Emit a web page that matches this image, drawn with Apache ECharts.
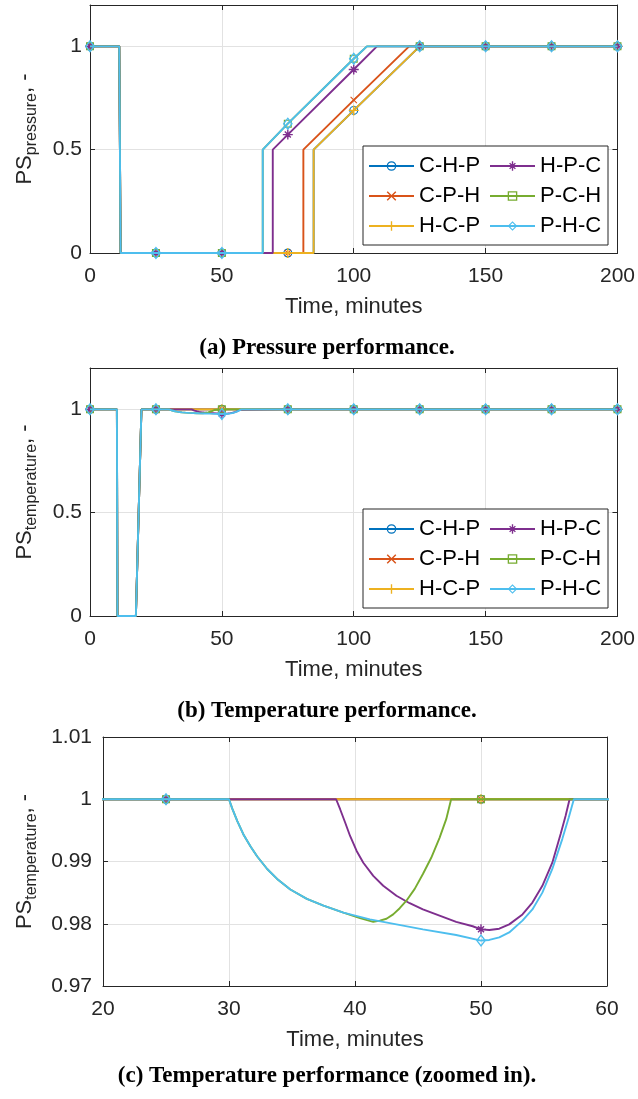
<!DOCTYPE html>
<html><head><meta charset="utf-8">
<script src="https://cdn.jsdelivr.net/npm/echarts@6.0.0/dist/echarts.min.js"></script>
<style>html,body{margin:0;padding:0;background:#fff}#c{width:638px;height:1099px}</style>
</head><body><div id="c"></div>
<script>
// ---------------- data ----------------
const seriesNames = ['C-H-P', 'C-P-H', 'H-C-P', 'H-P-C', 'P-C-H', 'P-H-C'];
const legendOrder = ['C-H-P', 'H-P-C', 'C-P-H', 'P-C-H', 'H-C-P', 'P-H-C'];
const markerTimes = [0, 25, 50, 75, 100, 125, 150, 175, 200];
const captions = ['(a) Pressure performance.', '(b) Temperature performance.', '(c) Temperature performance (zoomed in).'];
const xTitle = 'Time, minutes';

// Pressure performance [time, PS]
const pressCHP = [[0,1],[11.1,1],[11.6,0],[25,0],[50,0],[75,0],[84.8,0],[84.8,0.5],[100,0.69],[125,1],[150,1],[175,1],[200,1]];
const pressCPH = [[0,1],[11.1,1],[11.6,0],[25,0],[50,0],[75,0],[80.9,0],[80.9,0.5],[100,0.74],[121,1],[125,1],[150,1],[175,1],[200,1]];
const pressHCP = [[0,1],[11.1,1],[11.6,0],[25,0],[50,0],[75,0],[84.8,0],[84.8,0.5],[100,0.69],[125,1],[150,1],[175,1],[200,1]];
const pressHPC = [[0,1],[11.1,1],[11.6,0],[25,0],[50,0],[69.3,0],[69.3,0.5],[75,0.573],[100,0.888],[108.8,1],[125,1],[150,1],[175,1],[200,1]];
const pressPCH = [[0,1],[11.1,1],[11.6,0],[25,0],[50,0],[65.5,0],[65.5,0.5],[75,0.626],[100,0.94],[105,1],[125,1],[150,1],[175,1],[200,1]];
const pressPHC = [[0,1],[11.1,1],[11.6,0],[25,0],[50,0],[65.5,0],[65.5,0.5],[75,0.626],[100,0.94],[105,1],[125,1],[150,1],[175,1],[200,1]];

// Temperature performance [time, PS]
const tempCHP = [[0,1],[10.2,1],[10.4,0],[17.4,0],[19.5,1],[25,1],[50,1],[75,1],[100,1],[125,1],[150,1],[175,1],[200,1]];
const tempCPH = [[0,1],[10.2,1],[10.4,0],[17.4,0],[19.5,1],[25,1],[50,1],[75,1],[100,1],[125,1],[150,1],[175,1],[200,1]];
const tempHCP = [[0,1],[10.2,1],[10.4,0],[17.4,0],[19.5,1],[25,1],[50,1],[75,1],[100,1],[125,1],[150,1],[175,1],[200,1]];
const tempHPC = [[0,1],[10.2,1],[10.4,0],[17.4,0],[19.5,1],[25,1],[38.5,1],[38.82,0.9984],[39.21,0.9963],[39.61,0.9941],[40.13,0.9917],[40.66,0.9898],[41.45,0.9877],[42.24,0.9861],[43.29,0.9845],[44.34,0.9833],[45.39,0.9823],[46.71,0.9813],[48.03,0.9803],[49.34,0.9796],[50,0.9791],[50.66,0.979],[51.45,0.9792],[52.24,0.9799],[53.29,0.9815],[54.08,0.9834],[54.87,0.9861],[55.66,0.9898],[56.32,0.9944],[56.71,0.9973],[57.03,1],[75,1],[100,1],[125,1],[150,1],[175,1],[200,1]];
const tempPCH = [[0,1],[10.2,1],[10.4,0],[17.4,0],[19.5,1],[25,1],[30,1],[30.26,0.9985],[30.66,0.9965],[31.18,0.9942],[31.71,0.9924],[32.24,0.9908],[33.03,0.9888],[33.82,0.9872],[34.87,0.9855],[36.18,0.984],[37.5,0.9829],[39.08,0.9818],[40.4,0.9809],[41.45,0.9803],[41.97,0.9805],[42.5,0.9808],[43.03,0.9815],[43.55,0.9825],[44.08,0.9837],[44.74,0.9856],[45.39,0.988],[46.05,0.9906],[46.71,0.9938],[47.24,0.9968],[47.63,1],[50,1],[75,1],[100,1],[125,1],[150,1],[175,1],[200,1]];
const tempPHC = [[0,1],[10.2,1],[10.4,0],[17.4,0],[19.5,1],[25,1],[30,1],[30.26,0.9985],[30.66,0.9965],[31.18,0.9942],[31.71,0.9924],[32.24,0.9908],[33.03,0.9888],[33.82,0.9872],[34.87,0.9855],[36.18,0.984],[37.5,0.9829],[39.08,0.9818],[41.18,0.9807],[43.29,0.9799],[45.39,0.9791],[48.03,0.9782],[50,0.9773],[50.66,0.9774],[51.45,0.9778],[52.24,0.9786],[53.29,0.9805],[54.08,0.9823],[54.87,0.985],[55.66,0.9888],[56.45,0.9936],[56.97,0.9971],[57.37,1],[75,1],[100,1],[125,1],[150,1],[175,1],[200,1]];

const pressureData = [pressCHP, pressCPH, pressHCP, pressHPC, pressPCH, pressPHC];
const temperatureData = [tempCHP, tempCPH, tempHCP, tempHPC, tempPCH, tempPHC];

// ---------------- style ----------------
const colors = ['#0072BD', '#D95319', '#EDB120', '#7E2F8E', '#77AC30', '#4DBEEE'];
const symCircle = 'path://M5,0 A5,5 0 1,1 5,10 A5,5 0 1,1 5,0 Z M5,1.3 A3.7,3.7 0 1,0 5,8.7 A3.7,3.7 0 1,0 5,1.3 Z';
const symX = 'path://M0,1.06 L1.06,0 L5,3.94 L8.94,0 L10,1.06 L6.06,5 L10,8.94 L8.94,10 L5,6.06 L1.06,10 L0,8.94 L3.94,5 Z';
const symPlus = 'path://M4.3,0 L5.7,0 L5.7,4.3 L10,4.3 L10,5.7 L5.7,5.7 L5.7,10 L4.3,10 L4.3,5.7 L0,5.7 L0,4.3 L4.3,4.3 Z';
const symStar = 'path://M4.3,0 L5.7,0 L5.7,4.3 L10,4.3 L10,5.7 L5.7,5.7 L5.7,10 L4.3,10 L4.3,5.7 L0,5.7 L0,4.3 L4.3,4.3 Z M1.5,2.5 L2.5,1.5 L5,4 L7.5,1.5 L8.5,2.5 L6,5 L8.5,7.5 L7.5,8.5 L5,6 L2.5,8.5 L1.5,7.5 L4,5 Z';
const symSquare = 'path://M0,0 L10,0 L10,10 L0,10 Z M1.4,1.4 L1.4,8.6 L8.6,8.6 L8.6,1.4 Z';
const symDiamond = 'path://M5,0 L10,5 L5,10 L0,5 Z M5,1.7 L1.7,5 L5,8.3 L8.3,5 Z';
const symbols = [symCircle, symX, symPlus, symStar, symSquare, symDiamond];
const symSizes = [9, 7, 10, 10, 8, [10, 13]];

const FONT = '"Liberation Sans", Arial, sans-serif';
const AX = '#262626';
const GRIDC = '#e2e2e2';

const grids = [
  {left: 90, top: 5, width: 529, height: 248},
  {left: 90, top: 368, width: 529, height: 248},
  {left: 103, top: 737, width: 504, height: 249}
];

function yName(sub) { return '{a|PS}{b|' + sub + '}{a|, -}'; }
const richName = {
  a: {fontFamily: FONT, fontSize: 22, lineHeight: 26, verticalAlign: 'top', color: AX},
  b: {fontFamily: FONT, fontSize: 16, lineHeight: 16, padding: [14, 0, 0, 0], verticalAlign: 'bottom', color: AX}
};

function mainX(gi, min, max, interval) {
  return {type: 'value', gridIndex: gi, min: min, max: max, interval: interval, position: 'bottom',
    name: xTitle, nameLocation: 'middle', nameGap: 43,
    nameTextStyle: {fontFamily: FONT, fontSize: 22, color: AX},
    axisLine: {show: true, onZero: false, lineStyle: {color: AX, width: 1}},
    axisTick: {show: true, inside: true, length: 5, lineStyle: {color: AX}},
    axisLabel: {show: true, margin: 13, fontFamily: FONT, fontSize: 21, color: AX, hideOverlap: false},
    splitLine: {show: true, lineStyle: {color: GRIDC, width: 1}}};
}
function topX(gi, min, max, interval) {
  return {type: 'value', gridIndex: gi, min: min, max: max, interval: interval, position: 'top',
    axisLine: {show: true, onZero: false, lineStyle: {color: AX, width: 1}},
    axisTick: {show: true, inside: true, length: 5, lineStyle: {color: AX}},
    axisLabel: {show: false}, splitLine: {show: false}};
}
function mainY(gi, min, max, interval, sub, nameGap, margin, showMax) {
  return {type: 'value', gridIndex: gi, min: min, max: max, interval: interval, position: 'left',
    name: yName(sub), nameLocation: 'middle', nameRotate: 90, nameGap: nameGap,
    nameTextStyle: {rich: richName},
    axisLine: {show: true, onZero: false, lineStyle: {color: AX, width: 1}},
    axisTick: {show: true, inside: true, length: 5, lineStyle: {color: AX}},
    axisLabel: {show: true, margin: margin, fontFamily: FONT, fontSize: 21, color: AX, showMaxLabel: showMax, hideOverlap: false},
    splitLine: {show: true, lineStyle: {color: GRIDC, width: 1}}};
}
function rightY(gi, min, max, interval) {
  return {type: 'value', gridIndex: gi, min: min, max: max, interval: interval, position: 'right',
    axisLine: {show: true, onZero: false, lineStyle: {color: AX, width: 1}},
    axisTick: {show: true, inside: true, length: 5, lineStyle: {color: AX}},
    axisLabel: {show: false}, splitLine: {show: false}};
}

const xAxes = [
  mainX(0, 0, 200, 50), mainX(1, 0, 200, 50), mainX(2, 20, 60, 10),
  topX(0, 0, 200, 50), topX(1, 0, 200, 50), topX(2, 20, 60, 10)
];
const yAxes = [
  mainY(0, 0, 1.2, 0.5, 'pressure', 50, 8, false),
  mainY(1, 0, 1.2, 0.5, 'temperature', 50, 8, false),
  mainY(2, 0.97, 1.01, 0.01, 'temperature', 63, 11, true),
  rightY(0, 0, 1.2, 0.5), rightY(1, 0, 1.2, 0.5), rightY(2, 0.97, 1.01, 0.01)
];

function toItems(arr) {
  return arr.map(function (p) {
    return markerTimes.indexOf(p[0]) >= 0 ? {value: p} : {value: p, symbol: 'none'};
  });
}
const series = [];
[pressureData, temperatureData, temperatureData].forEach(function (set, gi) {
  set.forEach(function (arr, k) {
    series.push({
      type: 'line', name: seriesNames[k], xAxisIndex: gi, yAxisIndex: gi,
      data: toItems(arr), symbol: symbols[k], symbolSize: symSizes[k],
      showSymbol: true, showAllSymbol: true, clip: true, animation: false,
      lineStyle: {color: colors[k], width: 1.9},
      itemStyle: {color: colors[k], borderWidth: 0},
      emphasis: {disabled: true}, z: 2 + k
    });
  });
});

const legends = [146, 509].map(function (top) {
  return {data: legendOrder, orient: 'horizontal', left: 363, top: top, width: 240,
    itemWidth: 45, itemHeight: 12, itemGap: 8, padding: [9, 6, 8, 5],
    backgroundColor: '#fff', borderColor: AX, borderWidth: 1, borderRadius: 0,
    selectedMode: false,
    textStyle: {fontFamily: FONT, fontSize: 22, color: '#000', width: 62, lineHeight: 20}};
});

const capY = [348, 711, 1076];
const graphics = captions.map(function (t, i) {
  return {type: 'text', x: 327, y: capY[i], silent: true,
    style: {text: t, font: 'bold 23px "Liberation Serif", "Times New Roman", serif',
      align: 'center', verticalAlign: 'middle', textAlign: 'center', textVerticalAlign: 'middle', fill: '#000'}};
});

const chart = echarts.init(document.getElementById('c'), null, {renderer: 'canvas'});
chart.setOption({
  backgroundColor: '#fff',
  animation: false,
  grid: grids,
  xAxis: xAxes,
  yAxis: yAxes,
  legend: legends,
  series: series,
  graphic: graphics
});
</script>
</body></html>
